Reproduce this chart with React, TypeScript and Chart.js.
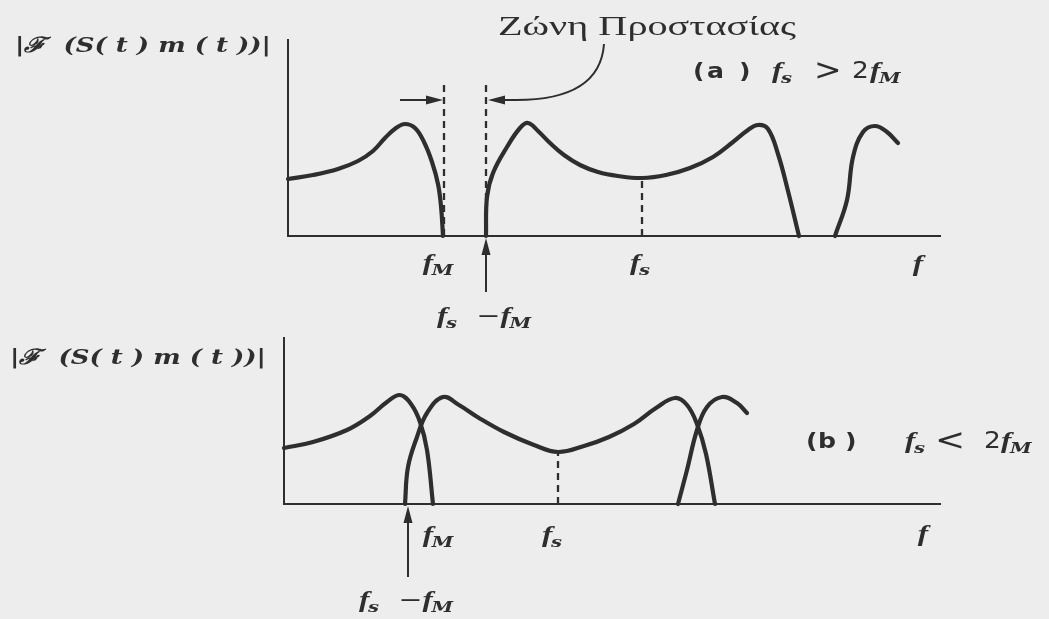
import React, { useEffect, useRef } from "react";
import { Chart, registerables } from "chart.js";

Chart.register(...registerables);

const PAGE_W = 1049;
const INK = "#2e2e2e";
const PAPER = "#ededed";

// ---------- (a) fs > 2fM : spectrum with a guard band ----------
const A_F_MAX = 652;
const A_MAG_MAX = 196;
const A_FM = 156;
const A_FS = 354;
const A_GUARD_TOP = 153;
const A_GUARD_ARROW = 136;

const A_BASE_F = [0, 25, 50, 70, 85, 97, 108, 117, 127, 136, 144, 150, 153, 155];
const A_BASE_MAG = [57, 61, 67, 75, 85, 98, 108, 112, 108, 94, 74, 52, 30, 0];

const A_IMG1_F = [198, 199, 205, 219, 232, 240, 250, 262, 276, 292, 310, 330, 354, 378, 402, 425, 445, 460, 470, 480, 490, 500, 511];
const A_IMG1_MAG = [0, 39, 63, 89, 108, 113, 105, 93, 81, 71, 64, 60, 58, 61, 68, 79, 94, 106, 111, 107, 82, 45, 0];

const A_IMG2_F = [547, 559, 565, 575, 587, 599, 610];
const A_IMG2_MAG = [0, 36, 79, 104, 110, 104, 93];

// ---------- (b) fs < 2fM : overlapping images ----------
const B_F_MAX = 656;
const B_MAG_MAX = 166;
const B_FM = 150;
const B_FS = 274;

const B_BASE_F = [0, 29, 63, 86, 103, 116, 127, 136, 143, 149];
const B_BASE_MAG = [56, 62, 74, 88, 102, 109, 100, 82, 54, 0];

const B_IMG1_F = [121, 124, 133, 143, 159, 175, 195, 220, 250, 274, 300, 325, 350, 372, 391, 403, 413, 422, 431];
const B_IMG1_MAG = [0, 37, 67, 91, 107, 99, 86, 72, 59, 52, 58, 67, 80, 96, 106, 99, 80, 50, 0];

const B_IMG2_F = [394, 403, 413, 423, 438, 453, 463];
const B_IMG2_MAG = [0, 34, 74, 97, 107, 101, 91];

// ---------- text styling ----------
const SX = 1.3; // horizontal stretch of the printed lettering
const VAR_FONT = 'bold italic 24px "Liberation Serif"';
const SUB_FONT = 'bold italic 15px "DejaVu Serif"';
const OP_FONT = '22px "DejaVu Sans"';
const REL_FONT = '30px "DejaVu Sans"';
const NUM_FONT = '23px "DejaVu Sans"';
const TAG_FONT = 'bold 21px "DejaVu Sans"';
const YLABEL_FONT = 'bold italic 21px "DejaVu Serif"';
const NOTE_FONT = '28px "Liberation Serif"';

type Run = { t: string; font: string; dy?: number; gap?: number };

function variable(main: string, sub?: string): Run[] {
  const r: Run[] = [{ t: main, font: VAR_FONT }];
  if (sub) r.push({ t: sub, font: SUB_FONT, dy: 5, gap: -1 });
  return r;
}

function drawRuns(
  ctx: CanvasRenderingContext2D,
  runs: Run[],
  x: number,
  y: number,
  align: "left" | "center" = "left",
  sx: number = SX,
  fitWidth?: number
) {
  ctx.save();
  ctx.textBaseline = "alphabetic";
  ctx.textAlign = "left";
  const widths = runs.map((r) => {
    ctx.font = r.font;
    return ctx.measureText(r.t).width;
  });
  let total = 0;
  runs.forEach((r, i) => (total += (r.gap || 0) + widths[i]));
  const k = fitWidth ? fitWidth / total : sx;
  const start = align === "center" ? x - (total * k) / 2 : x;
  ctx.translate(start, y);
  ctx.scale(k, 1);
  ctx.fillStyle = INK;
  let cx = 0;
  runs.forEach((r, i) => {
    cx += r.gap || 0;
    ctx.font = r.font;
    ctx.fillText(r.t, cx, r.dy || 0);
    cx += widths[i];
  });
  ctx.restore();
}

function arrowHead(ctx: CanvasRenderingContext2D, tx: number, ty: number, dx: number, dy: number, len = 15, half = 4.5) {
  const nx = -dy;
  const ny = dx;
  const bx = tx - dx * len;
  const by = ty - dy * len;
  ctx.beginPath();
  ctx.moveTo(tx, ty);
  ctx.lineTo(bx + nx * half, by + ny * half);
  ctx.lineTo(bx - nx * half, by - ny * half);
  ctx.closePath();
  ctx.fill();
}

function curve(f: number[], mag: number[]) {
  return {
    data: f.map((x, i) => ({ x, y: mag[i] })),
    borderColor: INK,
    borderWidth: 4.2,
    tension: 0.4,
    pointRadius: 0,
    fill: false,
    clip: false as const,
    borderCapStyle: "round" as const,
    borderJoinStyle: "round" as const,
  };
}

function dashed(fx: number, top: number) {
  return {
    data: [
      { x: fx, y: 0 },
      { x: fx, y: top },
    ],
    borderColor: INK,
    borderWidth: 2.3,
    borderDash: [7, 5],
    pointRadius: 0,
    fill: false,
    clip: false as const,
  };
}

function axisOptions(max: number) {
  return {
    type: "linear" as const,
    min: 0,
    max,
    grid: { display: false, drawTicks: false },
    ticks: { display: false },
    border: { display: true, color: INK, width: 2 },
  };
}

function makeChart(
  canvas: HTMLCanvasElement,
  datasets: any[],
  fMax: number,
  magMax: number,
  padding: { left: number; top: number; right: number; bottom: number },
  annotate: (chart: Chart) => void
) {
  return new Chart(canvas, {
    type: "line",
    data: { datasets },
    options: {
      animation: false,
      responsive: false,
      devicePixelRatio: 1,
      events: [],
      layout: { padding },
      plugins: { legend: { display: false }, tooltip: { enabled: false }, title: { display: false } },
      scales: { x: axisOptions(fMax), y: axisOptions(magMax) },
    },
    plugins: [{ id: "labels", afterDraw: (c: Chart) => annotate(c) }],
  } as any);
}

const Y_LABEL: Run[] = [{ t: "|ℱ  (S( t ) m ( t ))|", font: YLABEL_FONT }];

function annotateA(chart: Chart) {
  const ctx = chart.ctx;
  const xs = chart.scales.x;
  const ys = chart.scales.y;
  const px = (v: number) => xs.getPixelForValue(v);
  const py = (v: number) => ys.getPixelForValue(v);
  const axisY = py(0);
  const pFM = px(A_FM);
  const pGuard = px(A_FS - A_FM);
  ctx.save();
  ctx.fillStyle = INK;
  ctx.strokeStyle = INK;

  drawRuns(ctx, Y_LABEL, 15, 52, "left", SX, 256);
  drawRuns(ctx, [{ t: "Ζώνη Προστασίας", font: NOTE_FONT }], 647, 35, "center", SX, 298);

  // guard band arrows
  const gy = py(A_GUARD_ARROW);
  ctx.lineWidth = 2;
  ctx.beginPath();
  ctx.moveTo(pFM - 44, gy);
  ctx.lineTo(pFM - 12, gy);
  ctx.stroke();
  arrowHead(ctx, pFM - 1, gy, 1, 0, 17, 4.5);

  ctx.beginPath();
  ctx.moveTo(pGuard + 14, gy);
  ctx.lineTo(pGuard + 30, gy);
  ctx.quadraticCurveTo(600, gy, 604, 44);
  ctx.stroke();
  arrowHead(ctx, pGuard + 2, gy, -1, 0, 17, 4.5);

  // arrow up to fs - fM
  ctx.beginPath();
  ctx.moveTo(pGuard, 292);
  ctx.lineTo(pGuard, axisY + 12);
  ctx.stroke();
  arrowHead(ctx, pGuard, axisY + 2, 0, -1, 17, 4.5);

  drawRuns(ctx, variable("f", "M"), pFM - 6, 270, "center");
  drawRuns(ctx, variable("f", "s"), px(A_FS) - 2, 270, "center");
  drawRuns(ctx, [...variable("f", "s"), { t: " −", font: OP_FONT, gap: 8 }, ...variable("f", "M")], pGuard - 2, 323, "center");
  drawRuns(ctx, variable("f"), px(A_F_MAX) - 22, 271, "center");

  // (a)  fs > 2fM
  drawRuns(ctx, [{ t: "(", font: TAG_FONT }], 693, 78, "left", 1.2);
  drawRuns(ctx, [{ t: "a", font: TAG_FONT }], 707, 78, "left", 1.2);
  drawRuns(ctx, [{ t: ")", font: TAG_FONT }], 739, 78, "left", 1.2);
  drawRuns(ctx, variable("f", "s"), 772, 78, "left");
  drawRuns(ctx, [{ t: ">", font: REL_FONT }], 814, 80, "left", 1.1);
  drawRuns(ctx, [{ t: "2", font: NUM_FONT }], 852, 78, "left", 1.15);
  drawRuns(ctx, variable("f", "M"), 870, 78, "left");
  ctx.restore();
}

function annotateB(chart: Chart) {
  const ctx = chart.ctx;
  const xs = chart.scales.x;
  const ys = chart.scales.y;
  const px = (v: number) => xs.getPixelForValue(v);
  const py = (v: number) => ys.getPixelForValue(v);
  const axisY = py(0);
  const pAlias = px(B_FS - B_FM);
  ctx.save();
  ctx.fillStyle = INK;
  ctx.strokeStyle = INK;

  drawRuns(ctx, Y_LABEL, 10, 34, "left", SX, 256);

  ctx.lineWidth = 2;
  ctx.beginPath();
  ctx.moveTo(pAlias, 247);
  ctx.lineTo(pAlias, axisY + 12);
  ctx.stroke();
  arrowHead(ctx, pAlias, axisY + 2, 0, -1, 17, 4.5);

  drawRuns(ctx, variable("f", "M"), px(B_FM) + 4, 212, "center");
  drawRuns(ctx, variable("f", "s"), px(B_FS) - 6, 212, "center");
  drawRuns(ctx, [...variable("f", "s"), { t: " −", font: OP_FONT, gap: 8 }, ...variable("f", "M")], pAlias - 2, 277, "center");
  drawRuns(ctx, variable("f"), px(B_F_MAX) - 17, 211, "center");

  // (b)  fs < 2fM
  drawRuns(ctx, [{ t: "(", font: TAG_FONT }], 806, 118, "left", 1.2);
  drawRuns(ctx, [{ t: "b", font: TAG_FONT }], 818, 118, "left", 1.2);
  drawRuns(ctx, [{ t: ")", font: TAG_FONT }], 845, 118, "left", 1.2);
  drawRuns(ctx, variable("f", "s"), 905, 118, "left");
  drawRuns(ctx, [{ t: "<", font: REL_FONT }], 935, 120, "left", 1.2);
  drawRuns(ctx, [{ t: "2", font: NUM_FONT }], 984, 118, "left", 1.15);
  drawRuns(ctx, variable("f", "M"), 1001, 118, "left");
  ctx.restore();
}

const A_H = 330;
const B_H = 289;

export default function App() {
  const refA = useRef<HTMLCanvasElement>(null);
  const refB = useRef<HTMLCanvasElement>(null);

  useEffect(() => {
    document.body.style.margin = "0";
    document.body.style.background = PAPER;
    const a = makeChart(
      refA.current!,
      [
        curve(A_BASE_F, A_BASE_MAG),
        curve(A_IMG1_F, A_IMG1_MAG),
        curve(A_IMG2_F, A_IMG2_MAG),
        dashed(A_FM, A_GUARD_TOP),
        dashed(A_FS - A_FM, A_GUARD_TOP),
        dashed(A_FS, A_IMG1_MAG[A_IMG1_F.indexOf(A_FS)]),
      ],
      A_F_MAX,
      A_MAG_MAX,
      { left: 288, top: 40, right: PAGE_W - 940, bottom: A_H - 236 },
      annotateA
    );
    const b = makeChart(
      refB.current!,
      [
        curve(B_BASE_F, B_BASE_MAG),
        curve(B_IMG1_F, B_IMG1_MAG),
        curve(B_IMG2_F, B_IMG2_MAG),
        dashed(B_FS, B_IMG1_MAG[B_IMG1_F.indexOf(B_FS)]),
      ],
      B_F_MAX,
      B_MAG_MAX,
      { left: 284, top: 8, right: PAGE_W - 940, bottom: B_H - 174 },
      annotateB
    );
    return () => {
      a.destroy();
      b.destroy();
    };
  }, []);

  return (
    <div style={{ position: "absolute", left: 0, top: 0, width: PAGE_W, height: 619, background: PAPER, overflow: "hidden" }}>
      <canvas ref={refA} width={PAGE_W} height={A_H} style={{ position: "absolute", left: 0, top: 0, width: PAGE_W, height: A_H }} />
      <canvas ref={refB} width={PAGE_W} height={B_H} style={{ position: "absolute", left: 0, top: A_H, width: PAGE_W, height: B_H }} />
    </div>
  );
}
